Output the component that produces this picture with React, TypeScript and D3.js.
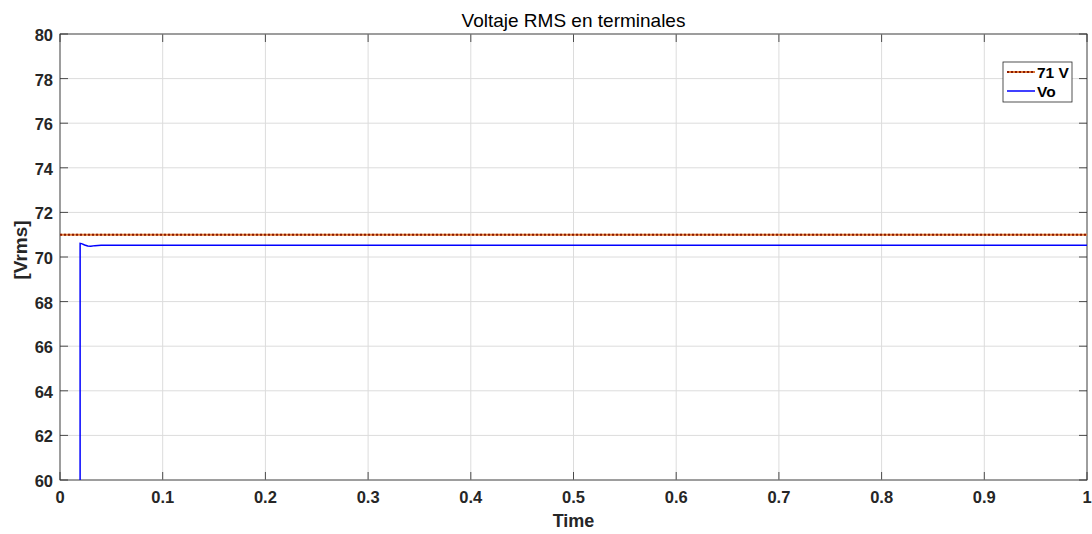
import React from "react";
import * as d3 from "d3";

const xTicks = [0, 0.1, 0.2, 0.3, 0.4, 0.5, 0.6, 0.7, 0.8, 0.9, 1];
const yTicks = [60, 62, 64, 66, 68, 70, 72, 74, 76, 78, 80];
const refTime = [0, 1];
const refValue = [71, 71];
const voTime = [0, 0.0194, 0.0196, 0.021, 0.024, 0.027, 0.03, 0.034, 0.04, 1];
const voValue = [0, 0, 70.61, 70.6, 70.54, 70.49, 70.48, 70.51, 70.53, 70.53];

export default function App() {
  const W = 1092, H = 534;
  const L = 60, R = 1087, T = 34, B = 480;
  const x = d3.scaleLinear().domain([0, 1]).range([L, R]);
  const y = d3.scaleLinear().domain([60, 80]).range([B, T]);
  const line = d3.line<[number, number]>().x(d => x(d[0])).y(d => y(d[1]));
  const refPts = refTime.map((t, i) => [t, refValue[i]] as [number, number]);
  const voPts = voTime.map((t, i) => [t, voValue[i]] as [number, number]);
  const font = "Arial, 'Liberation Sans', Helvetica, sans-serif";
  return (
    <svg width={W} height={H} style={{ position: "absolute", left: 0, top: 0 }} fontFamily={font}>
      <rect x={0} y={0} width={W} height={H} fill="#fff" />
      <defs>
        <clipPath id="plot"><rect x={L} y={T} width={R - L} height={B - T} /></clipPath>
      </defs>
      {xTicks.map(t => (
        <g key={"x" + t}>
          <line x1={x(t)} x2={x(t)} y1={T} y2={B} stroke="#dcdcdc" strokeWidth={1} />
          <line x1={x(t)} x2={x(t)} y1={B} y2={B - 8} stroke="#262626" strokeWidth={0.8} />
          <line x1={x(t)} x2={x(t)} y1={T} y2={T + 8} stroke="#262626" strokeWidth={0.8} />
          <text x={x(t)} y={503} textAnchor="middle" fontSize={16.5} fontWeight="bold" fill="#262626">{t}</text>
        </g>
      ))}
      {yTicks.map(v => (
        <g key={"y" + v}>
          <line x1={L} x2={R} y1={y(v)} y2={y(v)} stroke="#dcdcdc" strokeWidth={1} />
          <line x1={L} x2={L + 8} y1={y(v)} y2={y(v)} stroke="#262626" strokeWidth={0.8} />
          <line x1={R} x2={R - 8} y1={y(v)} y2={y(v)} stroke="#262626" strokeWidth={0.8} />
          <text x={L - 7} y={y(v) + 7} textAnchor="end" fontSize={16.5} fontWeight="bold" fill="#262626">{v}</text>
        </g>
      ))}
      <rect x={L} y={T} width={R - L} height={B - T} fill="none" stroke="#262626" strokeWidth={0.8} />
      <g clipPath="url(#plot)">
        <path d={line(refPts) || ""} fill="none" stroke="#E07B39" strokeWidth={2} />
        <path d={line(refPts) || ""} fill="none" stroke="#8B1A00" strokeWidth={2} strokeDasharray="2,2" />
        <path d={line(voPts) || ""} fill="none" stroke="#0000FF" strokeWidth={1.5} />
      </g>
      <text x={(L + R) / 2} y={27} textAnchor="middle" fontSize={19} fill="#000">Voltaje RMS en terminales</text>
      <text x={(L + R) / 2} y={527} textAnchor="middle" fontSize={18} fontWeight="bold" fill="#262626">Time</text>
      <text transform={`translate(27,250) rotate(-90)`} textAnchor="middle" fontSize={19} fontWeight="bold" fill="#262626">[Vrms]</text>
      <g>
        <rect x={1003} y={62} width={69} height={40} fill="#fff" stroke="#262626" strokeWidth={0.8} />
        <line x1={1007} x2={1035} y1={72} y2={72} stroke="#E07B39" strokeWidth={2} />
        <line x1={1007} x2={1035} y1={72} y2={72} stroke="#8B1A00" strokeWidth={2} strokeDasharray="2,2" />
        <text x={1037} y={77.5} fontSize={15.5} fontWeight="bold" fill="#000">71 V</text>
        <line x1={1007} x2={1035} y1={91} y2={91} stroke="#0000FF" strokeWidth={1.5} />
        <text x={1037} y={96.5} fontSize={15.5} fontWeight="bold" fill="#000">Vo</text>
      </g>
    </svg>
  );
}
